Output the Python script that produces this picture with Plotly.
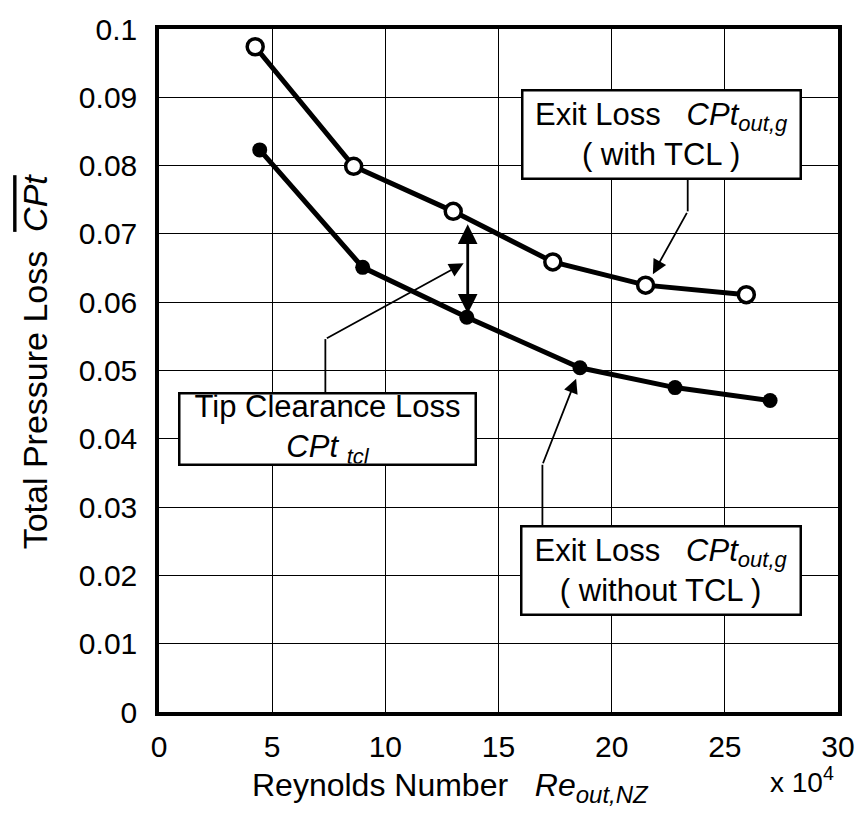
import plotly.graph_objects as go

# ---------------- data ----------------
re_with_tcl = [4.25, 8.6, 13.0, 17.4, 21.5, 25.95]
cpt_with_tcl = [0.0974, 0.0799, 0.0733, 0.0659, 0.0625, 0.0611]

re_without_tcl = [4.45, 9.0, 13.6, 18.6, 22.8, 27.0]
cpt_without_tcl = [0.0823, 0.0651, 0.0578, 0.0504, 0.0475, 0.0456]

x_tickvals = [0, 5, 10, 15, 20, 25, 30]
x_ticktext = ["0", "5", "10", "15", "20", "25", "30"]
y_tickvals = [0, 0.01, 0.02, 0.03, 0.04, 0.05, 0.06, 0.07, 0.08, 0.09, 0.1]
y_ticktext = ["0", "0.01", "0.02", "0.03", "0.04", "0.05", "0.06", "0.07", "0.08", "0.09", "0.1"]

FONT = "Liberation Sans, Arial, sans-serif"

fig = go.Figure()

fig.add_trace(go.Scatter(
    x=re_without_tcl, y=cpt_without_tcl, mode="lines+markers",
    line=dict(color="black", width=5),
    marker=dict(symbol="circle", size=15, color="black"),
    showlegend=False, hoverinfo="skip"))

fig.add_trace(go.Scatter(
    x=re_with_tcl, y=cpt_with_tcl, mode="lines+markers",
    line=dict(color="black", width=5),
    marker=dict(symbol="circle", size=16, color="white",
                line=dict(color="black", width=3.5)),
    showlegend=False, hoverinfo="skip"))

# ---------------- annotation geometry (callouts) ----------------
# elbow leader segments: (x0, y0, x1, y1)
leaders = [
    (7.35, 0.0468, 7.35, 0.0546),    # tip clearance box -> elbow
    (23.36, 0.0780, 23.36, 0.0733),  # with TCL box -> elbow
    (16.94, 0.0272, 16.94, 0.0362),  # without TCL box -> elbow
]
for x0, y0, x1, y1 in leaders:
    fig.add_shape(type="line", x0=x0, y0=y0, x1=x1, y1=y1,
                  xref="x", yref="y", line=dict(color="black", width=1.8))

# arrows: (tail x, tail y, head x, head y)
arrows = [
    (7.35, 0.0546, 13.46, 0.0657),
    (23.36, 0.0733, 21.82, 0.0641),
    (16.94, 0.0362, 18.43, 0.0488),
]
for ax, ay, x, y in arrows:
    fig.add_annotation(x=x, y=y, ax=ax, ay=ay, xref="x", yref="y",
                       axref="x", ayref="y", text="", showarrow=True,
                       arrowhead=2, arrowsize=1.6, arrowwidth=1.8,
                       arrowcolor="black")

# double arrow between the two curves
fig.add_annotation(x=13.64, y=0.0714, ax=13.64, ay=0.0581, xref="x", yref="y",
                   axref="x", ayref="y", text="", showarrow=True,
                   arrowhead=2, startarrowhead=2, arrowside="end+start",
                   arrowsize=1.4, startarrowsize=1.4, arrowwidth=2.8,
                   arrowcolor="black")

SUB = "<sub><span style='font-size:22px'>{}</span></sub>"

# text boxes
boxes = [
    (7.43, 0.0415, 294, 69,
     "Tip Clearance Loss<br><i>CPt</i> <i>" + SUB.format("tcl") + "</i>"),
    (22.22, 0.0846, 276, 86,
     "Exit Loss   <i>CPt" + SUB.format("out,g") + "</i><br>( with TCL )"),
    (22.20, 0.0207, 277, 86,
     "Exit Loss   <i>CPt" + SUB.format("out,g") + "</i><br>( without TCL )"),
]
for bx, by, bw, bh, txt in boxes:
    fig.add_annotation(x=bx, y=by, xref="x", yref="y", text=txt,
                       showarrow=False, width=bw, height=bh,
                       bgcolor="white", bordercolor="black", borderwidth=2.5,
                       borderpad=0, align="center", valign="middle",
                       font=dict(family=FONT, size=31, color="black"))

# axis titles
fig.add_annotation(x=0.43, y=-0.11, xref="paper", yref="paper",
                   text="Reynolds Number   <i>Re<sub><span style='font-size:24px'>out,NZ</span></sub></i>",
                   showarrow=False, xanchor="center", yanchor="middle",
                   font=dict(family=FONT, size=32, color="black"))
fig.add_annotation(x=0.947, y=-0.07, xref="paper", yref="paper",
                   text="x 10<sup>4</sup>",
                   showarrow=False, xanchor="center", yanchor="top",
                   font=dict(family=FONT, size=28, color="black"))
fig.add_annotation(x=-0.183, y=0.513, xref="paper", yref="paper",
                   text="Total Pressure Loss  <i><span style='text-decoration:overline'>CPt</span></i>",
                   textangle=-90, showarrow=False,
                   xanchor="center", yanchor="middle",
                   font=dict(family=FONT, size=34, color="black"))

axis_common = dict(showline=True, mirror=True, linecolor="black", linewidth=3.5,
                   showgrid=True, gridcolor="black", gridwidth=1,
                   zeroline=False, ticks="",
                   tickfont=dict(family=FONT, size=30, color="black"))

fig.update_xaxes(range=[0, 30], tickvals=x_tickvals, ticktext=x_ticktext,
                 ticklabelstandoff=5, **axis_common)
fig.update_yaxes(range=[0, 0.1], tickvals=y_tickvals, ticktext=y_ticktext,
                 ticklabelstandoff=12, **axis_common)

fig.update_layout(width=867, height=819,
                  margin=dict(l=159, r=26, t=22, b=107),
                  paper_bgcolor="white", plot_bgcolor="white",
                  font=dict(family=FONT, color="black"))

fig.write_html("out.html")
